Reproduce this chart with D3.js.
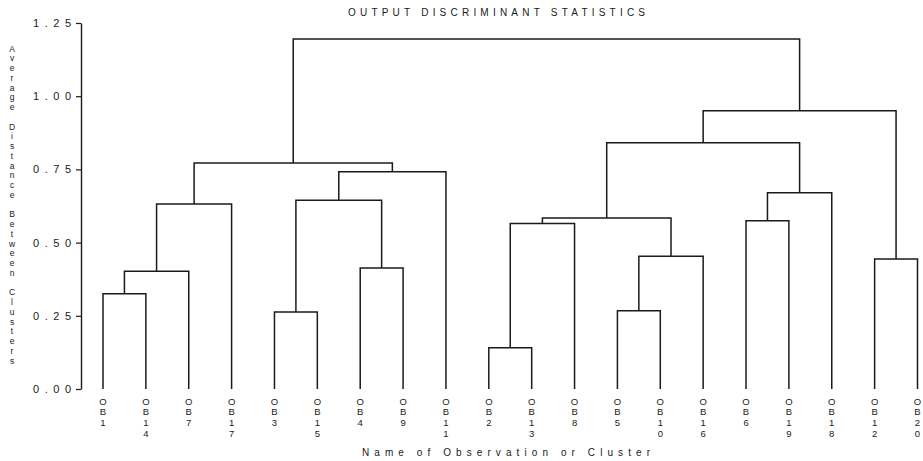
<!DOCTYPE html>
<html>
<head>
<meta charset="utf-8">
<script src="https://cdn.jsdelivr.net/npm/d3@7"></script>
<style>
  body { margin: 0; background: #fff; }
  text { font-family: "Liberation Sans", "DejaVu Sans", sans-serif; fill: #1a1a1a; }
</style>
</head>
<body>
<div id="chart"></div>
<script>
// leaf order along the x axis
var leaves = ["OB1", "OB14", "OB7", "OB17", "OB3", "OB15", "OB4", "OB9", "OB11", "OB2",
              "OB13", "OB8", "OB5", "OB10", "OB16", "OB6", "OB19", "OB18", "OB12", "OB20"];

// cluster joins (name, left child, right child, height)
var joinNames  = ["CL19", "CL18", "CL17", "CL16", "CL15", "CL14", "CL13", "CL12", "CL11", "CL10",
                  "CL9", "CL8", "CL7", "CL6", "CL5", "CL4", "CL3", "CL2", "CL1"];
var joinLeft   = ["OB2", "OB3", "OB5", "OB1", "CL16", "OB4", "OB12", "CL17", "CL19", "OB6",
                  "CL11", "CL15", "CL18", "CL10", "CL7", "CL8", "CL9", "CL3", "CL4"];
var joinRight  = ["OB13", "OB15", "OB10", "OB14", "OB7", "OB9", "OB20", "OB16", "OB8", "OB19",
                  "CL12", "OB17", "CL14", "OB18", "OB11", "CL5", "CL6", "CL13", "CL2"];
var joinHeight = [0.141, 0.263, 0.267, 0.325, 0.402, 0.413, 0.444, 0.453, 0.565, 0.575,
                  0.584, 0.632, 0.645, 0.67, 0.742, 0.772, 0.841, 0.95, 1.195];

var yTicks = [0, 0.25, 0.5, 0.75, 1.0, 1.25];

var svgWidth = 923, svgHeight = 461;

var svg = d3.select("#chart").append("svg")
  .attr("width", svgWidth)
  .attr("height", svgHeight);

var x = d3.scalePoint().domain(leaves).range([103, 917.5]);
var y = d3.scaleLinear().domain([0, 1.25]).range([389, 23]);

// y axis
var yAxis = svg.append("g")
  .attr("transform", "translate(81,0)")
  .call(d3.axisLeft(y).tickValues(yTicks).tickFormat(d3.format(".2f")).tickSize(5).tickSizeOuter(0));
yAxis.select(".domain").attr("stroke", "#1a1a1a").attr("stroke-width", 1.4);
yAxis.selectAll(".tick line").attr("stroke", "#1a1a1a").attr("stroke-width", 1.2);
yAxis.selectAll(".tick text")
  .attr("x", -10)
  .attr("textLength", 38)
  .attr("lengthAdjust", "spacing")
  .style("font-family", "Liberation Sans, sans-serif")
  .style("font-size", "11px")
  .attr("fill", "#1a1a1a");

// node positions
var pos = {};
leaves.forEach(function (d) { pos[d] = { x: x(d), h: 0 }; });

var links = [];
joinNames.forEach(function (name, i) {
  var a = pos[joinLeft[i]], b = pos[joinRight[i]];
  pos[name] = { x: (a.x + b.x) / 2, h: joinHeight[i] };
  links.push({ a: a, b: b, h: joinHeight[i] });
});

svg.append("g").selectAll("path")
  .data(links)
  .enter()
  .append("path")
  .attr("d", function (d) {
    return "M" + d.a.x + "," + y(d.a.h) + "V" + y(d.h) + "H" + d.b.x + "V" + y(d.b.h);
  })
  .attr("fill", "none")
  .attr("stroke", "#1a1a1a")
  .attr("stroke-width", 1.5);

// leaf labels, stacked vertically
var leafLabels = svg.append("g").selectAll("g")
  .data(leaves)
  .enter()
  .append("g")
  .attr("transform", function (d) { return "translate(" + x(d) + ",0)"; });

leafLabels.selectAll("text")
  .data(function (d) { return d.split(""); })
  .enter()
  .append("text")
  .attr("x", 0)
  .attr("y", function (c, i) { return 404.5 + i * 10.8; })
  .attr("text-anchor", "middle")
  .style("font-size", "9.5px")
  .text(function (c) { return c; });

// y axis title, letters stacked
var yTitle = "Average Distance Between Clusters";
svg.append("g").selectAll("text")
  .data(yTitle.split(""))
  .enter()
  .append("text")
  .attr("x", 12)
  .attr("y", function (c, i) { return 51.5 + i * 9.75; })
  .attr("text-anchor", "middle")
  .style("font-size", "8.5px")
  .text(function (c) { return c; });

// chart title
svg.append("text")
  .attr("x", 348)
  .attr("y", 16)
  .attr("textLength", 297)
  .attr("lengthAdjust", "spacing")
  .style("font-size", "10px")
  .text("OUTPUT DISCRIMINANT STATISTICS");

// x axis title
svg.append("text")
  .attr("x", 362)
  .attr("y", 456)
  .attr("textLength", 288)
  .attr("lengthAdjust", "spacing")
  .style("font-size", "10px")
  .text("Name of Observation or Cluster");
</script>
</body>
</html>
